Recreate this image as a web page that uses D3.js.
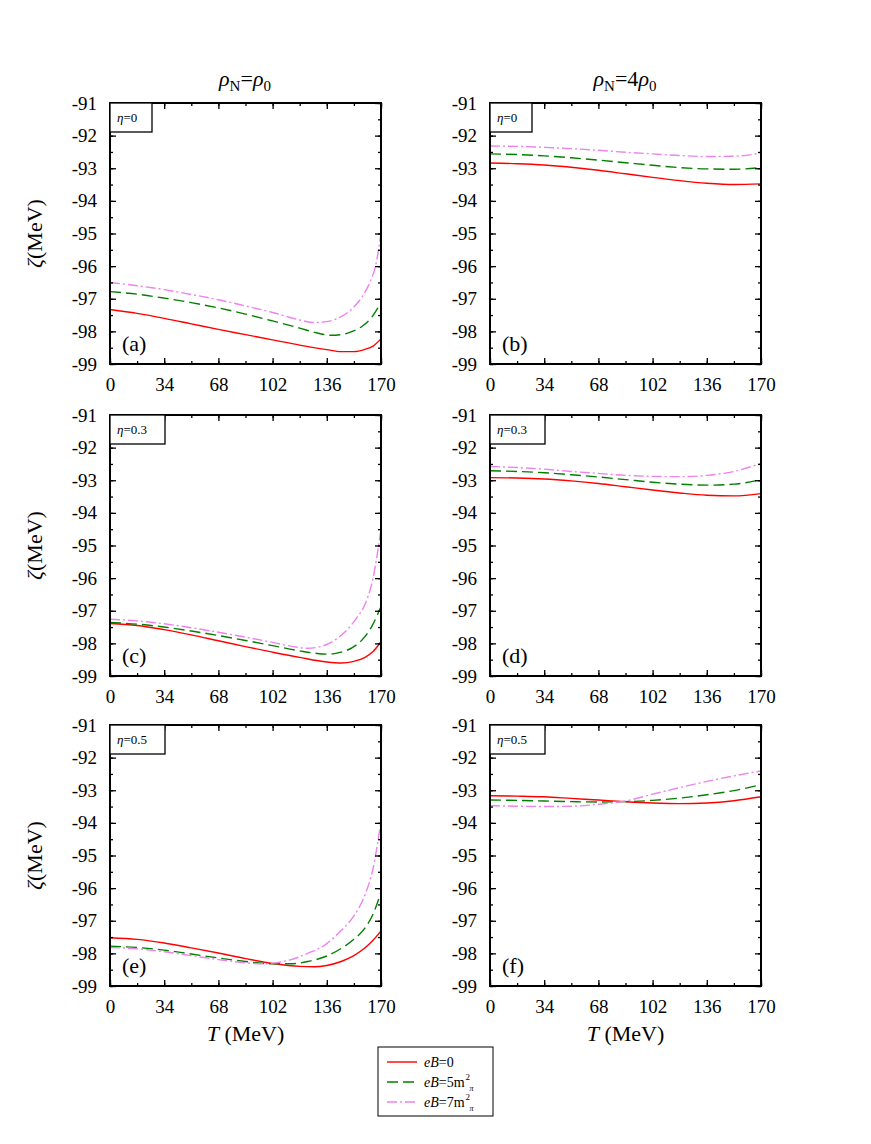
<!DOCTYPE html>
<html>
<head>
<meta charset="utf-8">
<script src="https://cdn.jsdelivr.net/npm/d3@7"></script>
<style>
  body { margin: 0; background: #fff; }
  svg text { font-family: "Liberation Serif", "DejaVu Serif", serif; fill: #000; }
</style>
</head>
<body>
<script>
const w = 871;
const h = 1144;

// tick values
const xTicks = [0, 34, 68, 102, 136, 170];
const yTicks = [-91, -92, -93, -94, -95, -96, -97, -98, -99];

// [T (MeV), zeta (MeV)]
// (a) rho_N = rho_0, eta = 0
const a_eB0 = [[0,-97.33],[17,-97.45],[34,-97.6],[51,-97.77],[68,-97.94],[85,-98.1],[102,-98.26],[119,-98.42],[136,-98.56],[145,-98.62],[153,-98.62],[160,-98.55],[165,-98.45],[170,-98.23]];
const a_eB5 = [[0,-96.78],[17,-96.86],[34,-96.98],[51,-97.12],[68,-97.28],[85,-97.47],[102,-97.68],[119,-97.9],[130,-98.05],[138,-98.12],[145,-98.1],[152,-98.0],[158,-97.85],[164,-97.58],[170,-97.12]];
const a_eB7 = [[0,-96.5],[17,-96.6],[34,-96.72],[51,-96.87],[68,-97.03],[85,-97.22],[102,-97.42],[119,-97.65],[128,-97.73],[136,-97.7],[145,-97.55],[152,-97.3],[158,-96.95],[163,-96.5],[167,-95.9],[170,-95.0]];
// (b) rho_N = 4 rho_0, eta = 0
const b_eB0 = [[0,-92.84],[17,-92.86],[34,-92.9],[51,-92.97],[68,-93.06],[85,-93.17],[102,-93.28],[119,-93.38],[136,-93.46],[153,-93.5],[170,-93.48]];
const b_eB5 = [[0,-92.56],[17,-92.58],[34,-92.62],[51,-92.68],[68,-92.75],[85,-92.83],[102,-92.91],[119,-92.98],[136,-93.02],[153,-93.03],[170,-92.98]];
const b_eB7 = [[0,-92.32],[17,-92.33],[34,-92.36],[51,-92.4],[68,-92.45],[85,-92.51],[102,-92.56],[119,-92.61],[136,-92.64],[153,-92.63],[170,-92.54]];
// (c) rho_N = rho_0, eta = 0.3
const c_eB0 = [[0,-97.39],[17,-97.45],[34,-97.58],[51,-97.74],[68,-97.92],[85,-98.1],[102,-98.27],[119,-98.43],[136,-98.57],[145,-98.6],[153,-98.55],[160,-98.43],[165,-98.25],[170,-97.95]];
const c_eB5 = [[0,-97.36],[17,-97.41],[34,-97.5],[51,-97.62],[68,-97.76],[85,-97.91],[102,-98.07],[119,-98.23],[130,-98.31],[138,-98.33],[145,-98.27],[152,-98.13],[158,-97.9],[164,-97.5],[170,-96.87]];
const c_eB7 = [[0,-97.26],[17,-97.31],[34,-97.4],[51,-97.52],[68,-97.66],[85,-97.81],[102,-97.97],[115,-98.1],[124,-98.15],[132,-98.1],[140,-97.93],[148,-97.62],[155,-97.2],[160,-96.8],[165,-96.0],[170,-94.5]];
// (d) rho_N = 4 rho_0, eta = 0.3
const d_eB0 = [[0,-92.92],[17,-92.93],[34,-92.96],[51,-93.02],[68,-93.1],[85,-93.2],[102,-93.3],[119,-93.39],[136,-93.46],[153,-93.48],[170,-93.41]];
const d_eB5 = [[0,-92.71],[17,-92.73],[34,-92.77],[51,-92.83],[68,-92.9],[85,-92.98],[102,-93.06],[119,-93.12],[136,-93.15],[153,-93.12],[170,-92.98]];
const d_eB7 = [[0,-92.58],[17,-92.61],[34,-92.66],[51,-92.73],[68,-92.79],[85,-92.85],[102,-92.88],[119,-92.89],[136,-92.85],[153,-92.73],[170,-92.48]];
// (e) rho_N = rho_0, eta = 0.5
const e_eB0 = [[0,-97.52],[17,-97.57],[34,-97.68],[51,-97.83],[68,-97.99],[85,-98.16],[102,-98.31],[119,-98.4],[128,-98.41],[136,-98.37],[145,-98.25],[153,-98.07],[160,-97.83],[165,-97.6],[170,-97.31]];
const e_eB5 = [[0,-97.78],[17,-97.82],[34,-97.9],[51,-98.02],[68,-98.14],[85,-98.25],[102,-98.32],[113,-98.32],[124,-98.25],[136,-98.08],[145,-97.85],[153,-97.57],[160,-97.22],[165,-96.8],[170,-96.12]];
const e_eB7 = [[0,-97.82],[17,-97.86],[34,-97.95],[51,-98.07],[68,-98.19],[85,-98.29],[95,-98.32],[102,-98.3],[113,-98.2],[124,-98.0],[136,-97.7],[145,-97.3],[153,-96.85],[160,-96.2],[165,-95.4],[170,-93.95]];
// (f) rho_N = 4 rho_0, eta = 0.5
const f_eB0 = [[0,-93.17],[17,-93.18],[34,-93.2],[51,-93.25],[68,-93.3],[85,-93.35],[102,-93.39],[119,-93.41],[136,-93.39],[153,-93.32],[170,-93.2]];
const f_eB5 = [[0,-93.3],[17,-93.31],[34,-93.33],[51,-93.35],[68,-93.36],[85,-93.35],[102,-93.31],[119,-93.24],[136,-93.14],[153,-93.01],[170,-92.83]];
const f_eB7 = [[0,-93.47],[17,-93.49],[34,-93.5],[51,-93.49],[68,-93.43],[85,-93.33],[102,-93.12],[119,-92.92],[136,-92.73],[153,-92.56],[170,-92.41]];

const panels = [
  { label: "(a)", eta: "0",   col: 0, row: 0, series: [a_eB0, a_eB5, a_eB7] },
  { label: "(b)", eta: "0",   col: 1, row: 0, series: [b_eB0, b_eB5, b_eB7] },
  { label: "(c)", eta: "0.3", col: 0, row: 1, series: [c_eB0, c_eB5, c_eB7] },
  { label: "(d)", eta: "0.3", col: 1, row: 1, series: [d_eB0, d_eB5, d_eB7] },
  { label: "(e)", eta: "0.5", col: 0, row: 2, series: [e_eB0, e_eB5, e_eB7] },
  { label: "(f)", eta: "0.5", col: 1, row: 2, series: [f_eB0, f_eB5, f_eB7] }
];

const styles = [
  { color: "#ff0000", dash: null },
  { color: "#008000", dash: "11,5" },
  { color: "#ee82ee", dash: "10,3,2,3" }
];

const serif = '"Liberation Serif", "DejaVu Serif", serif';
const colX = [110, 490];
const rowY = [103, 415, 725];
const pw = 271;
const ph = 261;

const svg = d3.select("body")
  .append("svg")
  .attr("width", w)
  .attr("height", h)
  .style("font-family", serif);

const x = d3.scaleLinear().domain([0, 170]).range([0, pw]);
const y = d3.scaleLinear().domain([-99, -91]).range([ph, 0]);

const line = d3.line()
  .x(d => x(d[0]))
  .y(d => y(d[1]))
  .curve(d3.curveMonotoneX);

panels.forEach(function(p) {
  const g = svg.append("g")
    .attr("transform", "translate(" + colX[p.col] + "," + rowY[p.row] + ")");

  // curves
  p.series.forEach(function(s, i) {
    g.append("path")
      .datum(s)
      .attr("d", line)
      .attr("fill", "none")
      .attr("stroke", styles[i].color)
      .attr("stroke-width", 1.4)
      .attr("stroke-dasharray", styles[i].dash);
  });

  // minor ticks, inward on all four sides
  const minorX = d3.range(0, 171, 17);
  const minorY = d3.range(-99, -90.9, 0.5);

  g.append("g")
    .attr("transform", "translate(0," + ph + ")")
    .call(d3.axisBottom(x).tickValues(minorX).tickSize(-3).tickFormat(""))
    .call(a => a.select(".domain").remove());
  g.append("g")
    .call(d3.axisTop(x).tickValues(minorX).tickSize(-3).tickFormat(""))
    .call(a => a.select(".domain").remove());
  g.append("g")
    .call(d3.axisLeft(y).tickValues(minorY).tickSize(-3).tickFormat(""))
    .call(a => a.select(".domain").remove());
  g.append("g")
    .attr("transform", "translate(" + pw + ",0)")
    .call(d3.axisRight(y).tickValues(minorY).tickSize(-3).tickFormat(""))
    .call(a => a.select(".domain").remove());

  // major ticks with labels
  const xb = g.append("g")
    .attr("transform", "translate(0," + ph + ")")
    .call(d3.axisBottom(x).tickValues(xTicks).tickSize(-6).tickPadding(14).tickFormat(d => String(d)));
  xb.select(".domain").remove();
  g.append("g")
    .call(d3.axisTop(x).tickValues(xTicks).tickSize(-6).tickFormat(""))
    .call(a => a.select(".domain").remove());

  const yl = g.append("g")
    .call(d3.axisLeft(y).tickValues(yTicks).tickSize(-6).tickPadding(13).tickFormat(d => String(d)));
  yl.select(".domain").remove();
  g.append("g")
    .attr("transform", "translate(" + pw + ",0)")
    .call(d3.axisRight(y).tickValues(yTicks).tickSize(-6).tickFormat(""))
    .call(a => a.select(".domain").remove());

  g.selectAll(".tick text")
    .style("font-family", serif)
    .style("font-size", "19px")
    .attr("fill", "#000");
  g.selectAll(".tick line").attr("stroke", "#000").attr("stroke-width", 1.3);

  // frame
  g.append("rect")
    .attr("width", pw)
    .attr("height", ph)
    .attr("fill", "none")
    .attr("stroke", "#000")
    .attr("stroke-width", 2);

  // eta box
  const bw = p.eta === "0" ? 42 : 55;
  g.append("rect")
    .attr("width", bw)
    .attr("height", 29)
    .attr("fill", "#fff")
    .attr("stroke", "#000")
    .attr("stroke-width", 1.3);
  const et = g.append("text")
    .attr("x", 7)
    .attr("y", 19)
    .style("font-size", "13px");
  et.append("tspan").style("font-style", "italic").text("η");
  et.append("tspan").text("=" + p.eta);

  // panel letter
  g.append("text")
    .attr("x", 12)
    .attr("y", ph - 13)
    .style("font-size", "22px")
    .text(p.label);
});

// column titles
function rhoTitle(cx, coef) {
  const t = svg.append("text")
    .attr("x", cx)
    .attr("y", 86)
    .attr("text-anchor", "middle")
    .style("font-size", "22px");
  t.append("tspan").style("font-style", "italic").text("ρ");
  t.append("tspan").attr("dy", 5).style("font-size", "15px").text("N");
  t.append("tspan").attr("dy", -5).text("=" + coef);
  t.append("tspan").style("font-style", "italic").text("ρ");
  t.append("tspan").attr("dy", 5).style("font-size", "15px").text("0");
}
rhoTitle(245, "");
rhoTitle(625, "4");

// y labels
rowY.forEach(function(ry) {
  const t = svg.append("text")
    .attr("transform", "translate(42," + (ry + ph / 2) + ") rotate(-90)")
    .attr("text-anchor", "middle")
    .style("font-size", "22px");
  t.append("tspan").style("font-style", "italic").text("ζ");
  t.append("tspan").text("(MeV)");
});

// x labels
colX.forEach(function(cx) {
  const t = svg.append("text")
    .attr("x", cx + pw / 2)
    .attr("y", 1041)
    .attr("text-anchor", "middle")
    .style("font-size", "22px");
  t.append("tspan").style("font-style", "italic").text("T");
  t.append("tspan").text(" (MeV)");
});

// legend
const legend = svg.append("g").attr("transform", "translate(378,1047)");
legend.append("rect")
  .attr("width", 115)
  .attr("height", 69)
  .attr("fill", "#fff")
  .attr("stroke", "#000")
  .attr("stroke-width", 1);
const legendItems = ["0", "5m", "7m"];
legendItems.forEach(function(lab, i) {
  const ly = 15 + i * 20;
  legend.append("line")
    .attr("x1", 9).attr("x2", 39)
    .attr("y1", ly).attr("y2", ly)
    .attr("stroke", styles[i].color)
    .attr("stroke-width", 1.4)
    .attr("stroke-dasharray", styles[i].dash);
  const t = legend.append("text")
    .attr("x", 46)
    .attr("y", ly + 5)
    .style("font-size", "14px");
  t.append("tspan").style("font-style", "italic").text("eB");
  t.append("tspan").text("=" + lab);
  if (i > 0) {
    const tx = t.node().getComputedTextLength();
    legend.append("text")
      .attr("x", 46 + tx + 1)
      .attr("y", ly - 2)
      .style("font-size", "9px")
      .text("2");
    legend.append("text")
      .attr("x", 46 + tx + 5)
      .attr("y", ly + 9)
      .style("font-size", "8px")
      .style("font-style", "italic")
      .text("π");
  }
});
</script>
</body>
</html>
